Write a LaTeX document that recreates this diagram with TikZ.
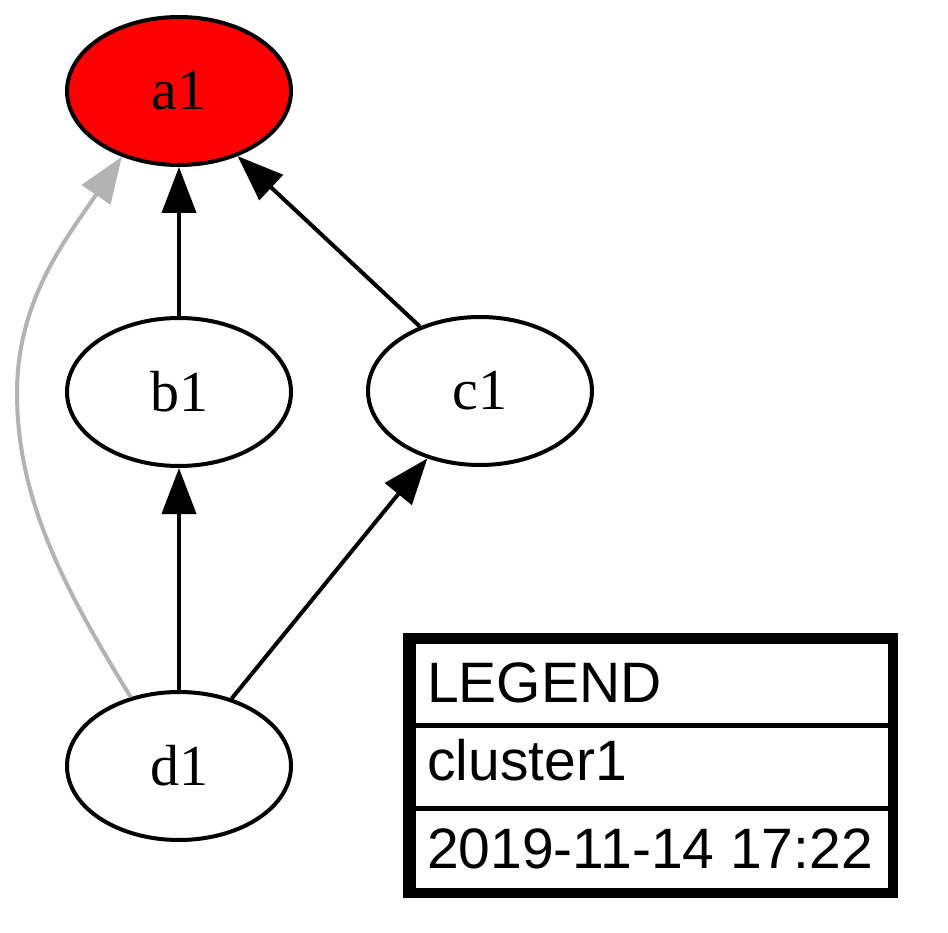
\documentclass[tikz,border=0pt]{standalone}
\usepackage{fontspec}
\setmainfont{Liberation Serif}
\newfontfamily\legendfont{Liberation Sans}
\usetikzlibrary{arrows.meta,shapes.geometric}
\definecolor{edgegray}{RGB}{179,179,179}
\tikzset{
  gnode/.style={ellipse, draw=black, line width=4pt, inner sep=0pt,
    minimum width=224pt, minimum height=148pt,
    font=\fontsize{58}{60}\selectfont},
  gedge/.style={line width=4pt, draw=black,
    -{Triangle[length=46pt,width=34pt]}},
  grayedge/.style={line width=4pt, draw=edgegray,
    -{Triangle[length=46pt,width=34pt]}},
  legtext/.style={anchor=base west, inner sep=0pt,
    font=\legendfont\fontsize{57}{60}\selectfont},
}
\begin{document}
\begin{tikzpicture}[x=1pt,y=-1pt]
\path[use as bounding box] (0,0) rectangle (948,933);

\node[gnode, fill=red] (a1) at (179,91) {a1};
\node[gnode] (b1) at (179,392) {b1};
\node[gnode] (c1) at (480,391) {c1};
\node[gnode] (d1) at (179,766) {d1};

\draw[gedge] (b1.north) -- (a1.south);
\draw[gedge] (c1.133) -- (a1.312);
\draw[gedge] (d1.north) -- (b1.south);
\draw[gedge] (d1.52) -- (c1.232);
\draw[grayedge] (d1.125) .. controls (65,590) and (17,500) .. (17,393)
  .. controls (17,300) and (66,239) .. (a1.229);

% legend
\draw[line width=10pt] (408,638) rectangle (893,893);
\draw[line width=3pt] (414,642) rectangle (889,889);
\draw[line width=5pt] (414,725) -- (889,725);
\draw[line width=5pt] (414,808) -- (889,808);
\node[legtext] (leg1) at (427,702) {LEGEND};
\node[legtext] (leg2) at (427,780) {cluster1};
\node[legtext] (leg3) at (427,868) {2019-11-14 17:22};
\end{tikzpicture}
\end{document}
